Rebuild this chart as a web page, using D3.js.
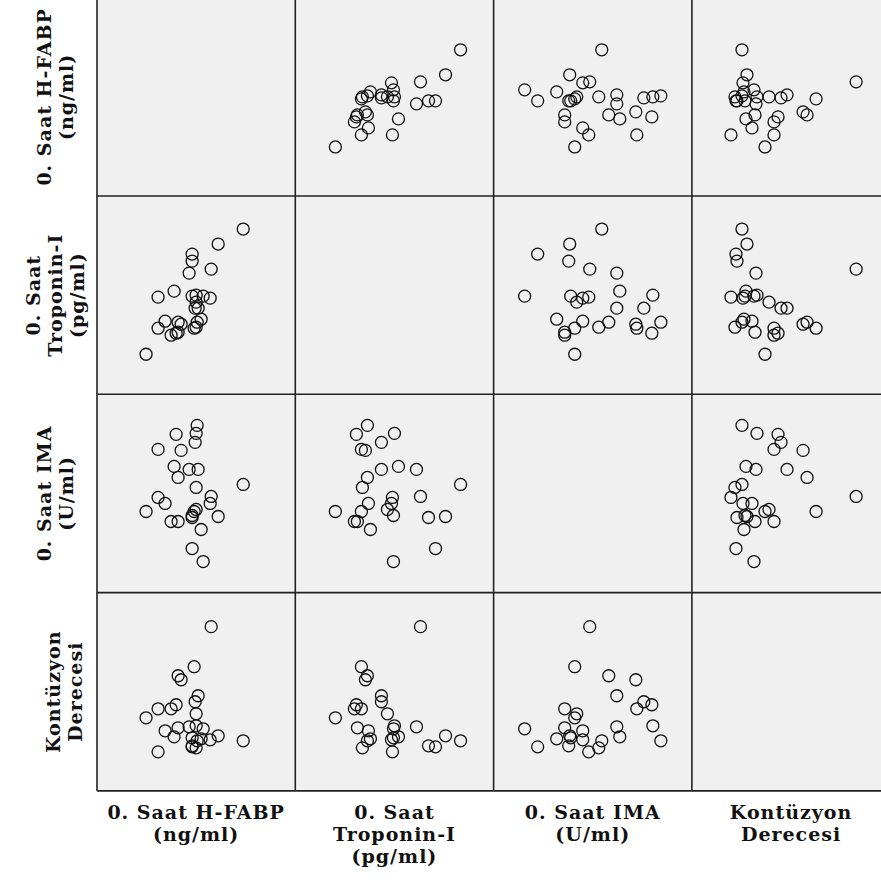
<!DOCTYPE html>
<html>
<head>
<meta charset="utf-8">
<script src="https://cdn.jsdelivr.net/npm/d3@7"></script>
<style>
  body { margin: 0; background: #fff; }
  svg { display: block; }
  .lbl { font-family: "DejaVu Serif", serif; font-weight: bold; font-size: 19px; letter-spacing: 1px; fill: #111; }
</style>
</head>
<body>
<div id="chart"></div>
<script>
// values, relative units (no axes shown in the original)
const hfabp     = [146, 121, 114, 113, 106,  95, 104, 100,  99,  79,  98,  84,  61,  77,  92, 101,  81,  99,  61,  68,  49,  99,  97,  95,  95,  81,  74];
const troponin  = [165, 150, 125,  96,  98, 140,  75,  72,  99,  61,  86,  70,  66, 103, 121,  86,  72,  67,  97,  73,  40,  92,  66, 133,  98,  62,  59];
const ima       = [108,  76,  96,  89,  31,  44,  63, 167, 159, 158, 150, 142, 143, 126, 123, 123, 115, 105,  95,  89,  81,  83,  81,  75,  77,  71,  71];
const kontuzyon = [ 50,  55, 164,  51,  62,  44,  52,  50,  65,  86,  89, 111,  82,  54,  64,  95, 115,  43,  39,  60,  73,  77, 124,  45,  53,  63,  82];

const varLabels = [
  ["0. Saat H-FABP", "(ng/ml)"],
  ["0. Saat", "Troponin-I", "(pg/ml)"],
  ["0. Saat IMA", "(U/ml)"],
  ["Kontüzyon", "Derecesi"]
];

const vars = [hfabp, troponin, ima, kontuzyon];
const valueDomain = [0, 198];

const width = 881, height = 888,
  gridLeft = 97, gridTop = -2.3, cell = 198.3,
  lineGap = 22;

let svg = d3.select("#chart").append("svg")
  .attr("width", width)
  .attr("height", height);

let pos = d3.scaleLinear().domain(valueDomain).range([0, cell]);
let band = d3.scaleBand().domain(d3.range(vars.length)).range([0, cell * vars.length]);

// cells
let cells = [];
vars.forEach((rv, i) => vars.forEach((cv, j) => cells.push({ row: i, col: j })));

let g = svg.append("g").attr("transform", "translate(" + gridLeft + "," + gridTop + ")");

let cellG = g.selectAll(".cell")
  .data(cells)
  .join("g")
  .attr("class", "cell")
  .attr("transform", d => "translate(" + band(d.col) + "," + band(d.row) + ")");

cellG.append("rect")
  .attr("width", cell)
  .attr("height", cell)
  .attr("fill", "#f0f0f0");

cellG.each(function(d) {
  if (d.row === d.col) return;
  let xv = vars[d.col], yv = vars[d.row];
  let y = d3.scaleLinear().domain(valueDomain).range([cell, 0]);
  d3.select(this).selectAll("circle")
    .data(d3.range(xv.length))
    .join("circle")
    .attr("cx", k => pos(xv[k]))
    .attr("cy", k => y(yv[k]))
    .attr("r", 6)
    .attr("fill", "none")
    .attr("stroke", "#111")
    .attr("stroke-width", 1.3);
});

// grid lines
g.selectAll(".vline")
  .data(d3.range(vars.length + 1))
  .join("line")
  .attr("x1", k => k * cell).attr("x2", k => k * cell)
  .attr("y1", 0).attr("y2", cell * vars.length)
  .attr("stroke", "#222").attr("stroke-width", 1.6);

g.selectAll(".hline")
  .data(d3.range(vars.length + 1))
  .join("line")
  .attr("y1", k => k * cell).attr("y2", k => k * cell)
  .attr("x1", 0).attr("x2", cell * vars.length)
  .attr("stroke", "#222").attr("stroke-width", 1.6);

// column labels
let bottom = gridTop + cell * vars.length;
varLabels.forEach((lines, j) => {
  let cx = gridLeft + band(j) + cell / 2;
  lines.forEach((t, l) => {
    svg.append("text")
      .attr("class", "lbl")
      .attr("x", cx)
      .attr("y", bottom + 28 + l * lineGap)
      .attr("text-anchor", "middle")
      .text(t);
  });
});

// row labels, rotated
varLabels.forEach((lines, i) => {
  let cy = gridTop + band(i) + cell / 2,
    x0 = 62 - (lines.length - 1) * lineGap / 2;
  if (i === 3) x0 += 9; // Kontüzyon sits a bit closer to the grid
  lines.forEach((t, l) => {
    let x = x0 + l * lineGap;
    svg.append("text")
      .attr("class", "lbl")
      .attr("transform", "translate(" + x + "," + cy + ") rotate(-90)")
      .attr("text-anchor", "middle")
      .text(t);
  });
});
</script>
</body>
</html>
